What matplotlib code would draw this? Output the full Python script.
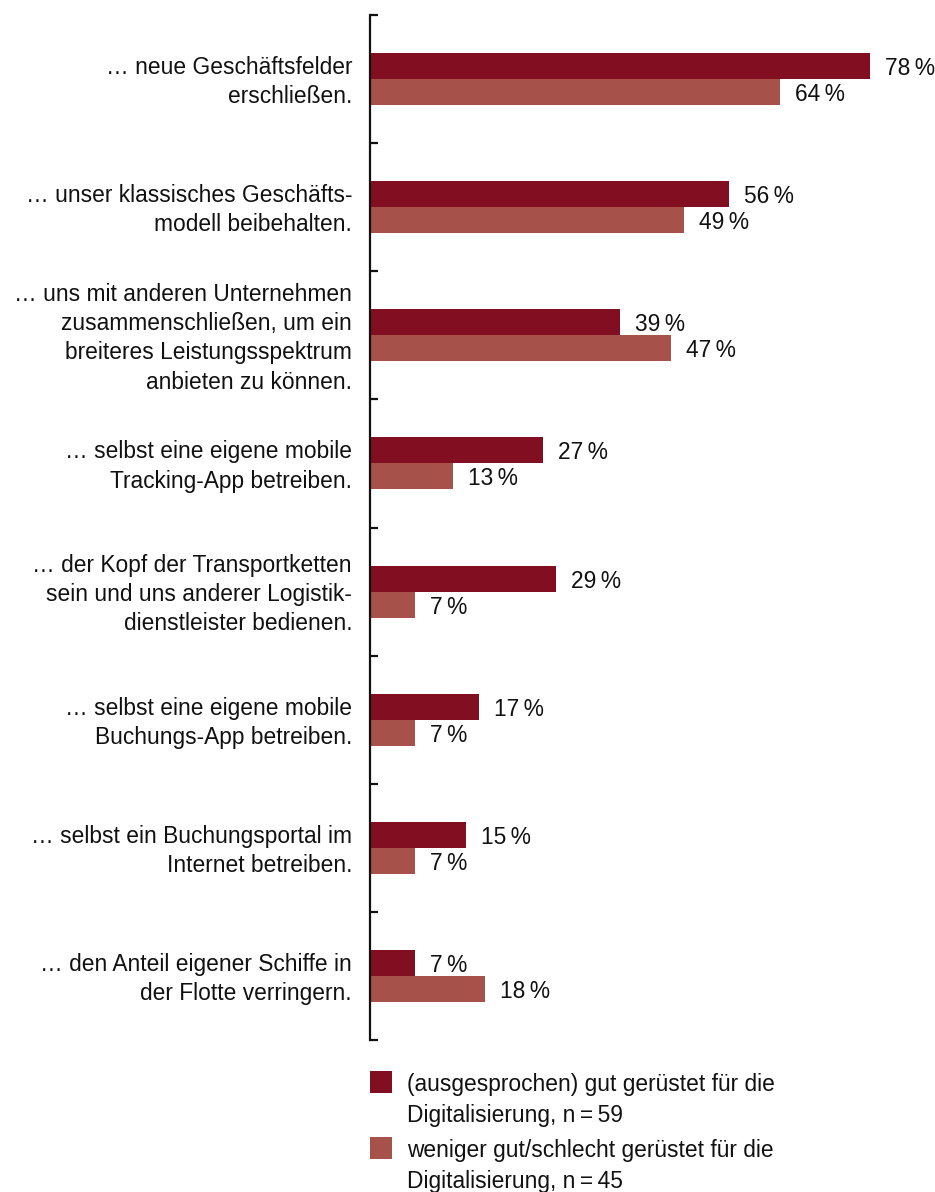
import matplotlib
matplotlib.use("Agg")
import matplotlib.pyplot as plt
from matplotlib.patches import Rectangle

plt.rcParams['font.family'] = ['Liberation Sans', 'DejaVu Sans']

categories = [
    "… neue Geschäftsfelder\nerschließen.",
    "… unser klassisches Geschäfts-\nmodell beibehalten.",
    "… uns mit anderen Unternehmen\nzusammenschließen, um ein\nbreiteres Leistungsspektrum\nanbieten zu können.",
    "… selbst eine eigene mobile\nTracking-App betreiben.",
    "… der Kopf der Transportketten\nsein und uns anderer Logistik-\ndienstleister bedienen.",
    "… selbst eine eigene mobile\nBuchungs-App betreiben.",
    "… selbst ein Buchungsportal im\nInternet betreiben.",
    "… den Anteil eigener Schiffe in\nder Flotte verringern.",
]
good_ready = [78, 56, 39, 27, 29, 17, 15, 7]
less_ready = [64, 49, 47, 13, 7, 7, 7, 18]
legend_labels = [
    "(ausgesprochen) gut gerüstet für die\nDigitalisierung, n\u2009=\u200959",
    "weniger gut/schlecht gerüstet für die\nDigitalisierung, n\u2009=\u200945",
]

DARK = "#820E22"
LIGHT = "#A6514A"
TEXT = "#111111"
FS = 16.4

W, H = 935, 1192
fig = plt.figure(figsize=(W / 100, H / 100), dpi=100)

ax_left = 370 / W
ax_top = 1 - 15 / H
ax_bottom = 1 - 1040 / H
ax = fig.add_axes([ax_left, ax_bottom, 1 - ax_left, ax_top - ax_bottom])

n = len(categories)
bar_h = 26 / 128
centers = [i + 0.5 for i in range(n)]
y_good = [c - bar_h / 2 for c in centers]
y_less = [c + bar_h / 2 for c in centers]

ax.barh(y_good, good_ready, height=bar_h, color=DARK, linewidth=0)
ax.barh(y_less, less_ready, height=bar_h, color=LIGHT, linewidth=0)

for ys, vals in ((y_good, good_ready), (y_less, less_ready)):
    for y, v in zip(ys, vals):
        ax.annotate(f"{v}\u2009%", (v, y), xytext=(15, -9), textcoords="offset pixels",
                    va="baseline", ha="left", fontsize=FS, color=TEXT)

px_per_pct = 6.41
ax.set_xlim(0, (W - 370) / px_per_pct)
ax.set_ylim(n, 0)

for s in ["top", "right", "bottom"]:
    ax.spines[s].set_visible(False)
ax.spines["left"].set_linewidth(1.6)
ax.spines["left"].set_color(TEXT)

ax.set_xticks([])
ax.set_yticks(range(n + 1))
ax.set_yticklabels([])
ax.tick_params(axis="y", direction="in", length=6, width=1.6, color=TEXT)

# category labels, one line at a time, right-aligned left of the axis
line_gap = 29.2
for c, label in zip(centers, categories):
    lines = label.split("\n")
    m = len(lines)
    for k, line in enumerate(lines):
        dy = (k - (m - 1) / 2) * line_gap + 9.5
        ax.annotate(line, (0, c), xytext=(-18, -dy), textcoords="offset pixels",
                    ha="right", va="baseline", fontsize=FS, color=TEXT,
                    annotation_clip=False)

# legend drawn in figure pixel space
sq = 22
entries = [(1071, DARK, legend_labels[0], [1091, 1122]),
           (1137, LIGHT, legend_labels[1], [1157, 1188])]
for top, color, text, baselines in entries:
    fig.patches.append(Rectangle((370 / W, 1 - (top + sq) / H), sq / W, sq / H,
                                 transform=fig.transFigure, color=color,
                                 linewidth=0))
    for line, yb in zip(text.split("\n"), baselines):
        fig.text(407 / W, 1 - yb / H, line, ha="left", va="baseline",
                 fontsize=FS, color=TEXT)

fig.savefig("out.png", dpi=100)
